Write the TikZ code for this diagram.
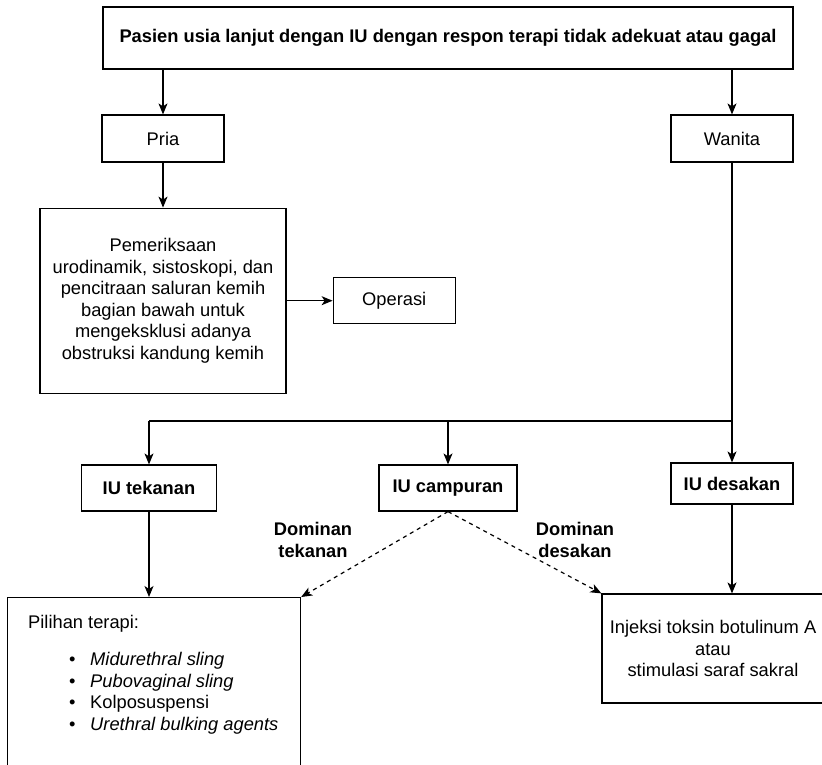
\documentclass[tikz,border=0pt]{standalone}
\usepackage{fontspec}
\setmainfont{Liberation Sans}
\usetikzlibrary{arrows.meta,positioning}

\begin{document}
\begin{tikzpicture}[x=1pt,y=-1pt,
  font=\fontsize{18.3}{21.5}\selectfont,
  box/.style={rectangle,draw,line width=1.2pt,align=center,inner sep=0pt},
  bold/.style={font=\fontsize{18.3}{21.5}\selectfont\bfseries},
  arr/.style={-{Stealth[length=11pt,width=9pt,inset=3pt]},line width=1.2pt},
  dasharr/.style={arr,dash pattern=on 4pt off 4pt},
  lbl/.style={bold,align=center,inner sep=0pt}]
\useasboundingbox (0,0) rectangle (822,764);
\node[box,bold,minimum width=690pt,minimum height=62pt] (pasien) at (448,38) {Pasien usia lanjut dengan IU dengan respon terapi tidak adekuat atau gagal};
\node[box,minimum width=122pt,minimum height=47pt] (pria) at (163,138.5) {Pria};
\node[box,minimum width=122pt,minimum height=47pt] (wanita) at (732,138.5) {Wanita};
\node[box,minimum width=246pt,minimum height=185pt,below=45pt of pria] (periksa) {Pemeriksaan\\urodinamik, sistoskopi, dan\\pencitraan saluran kemih\\bagian bawah untuk\\mengeksklusi adanya\\obstruksi kandung kemih};
\node[box,minimum width=122pt,minimum height=46pt,right=46pt of periksa] (operasi) {Operasi};
\node[box,bold,minimum width=135pt,minimum height=46pt] (tekanan) at (149,488) {IU tekanan};
\node[box,bold,minimum width=138pt,minimum height=46pt] (campuran) at (448,488) {IU campuran};
\node[box,bold,minimum width=122pt,minimum height=41pt] (desakan) at (732,483.5) {IU desakan};
\node[lbl] (domtek) at (313,540) {Dominan\\tekanan};
\node[lbl] (domdes) at (575,540) {Dominan\\desakan};
\node[box,anchor=north west,minimum width=293pt,minimum height=175pt] (pilihan) at (7,597) {};
\node[anchor=north west,align=left,inner sep=0pt] (opsi) at ([xshift=21pt,yshift=-18pt]pilihan.north west) {Pilihan terapi:\\[16pt]
  \hspace*{41pt}\makebox[21pt][l]{\textbullet}\textit{Midurethral sling}\\
  \hspace*{41pt}\makebox[21pt][l]{\textbullet}\textit{Pubovaginal sling}\\
  \hspace*{41pt}\makebox[21pt][l]{\textbullet}Kolposuspensi\\
  \hspace*{41pt}\makebox[21pt][l]{\textbullet}\textit{Urethral bulking agents}};
\node[box,minimum width=222pt,minimum height=109pt] (injeksi) at (713,648.5) {Injeksi toksin botulinum A\\atau\\stimulasi saraf sakral};
\coordinate (cabang) at (732,421);
\draw[arr] (pasien.south -| pria) -- (pria);
\draw[arr] (pasien.south -| wanita) -- (wanita);
\draw[arr] (pria) -- (periksa);
\draw[arr] (periksa.east |- operasi) -- (operasi);
\draw[line width=1.2pt] (wanita) -- (cabang) -- (cabang -| tekanan);
\foreach \n in {tekanan,campuran,desakan} {
  \draw[arr] (cabang -| \n) -- (\n);
}
\draw[arr] (tekanan) -- (tekanan |- pilihan.north);
\draw[arr] (desakan) -- (desakan |- injeksi.north);
\draw[dasharr] (campuran.south) -- (pilihan.north east);
\draw[dasharr] (campuran.south) -- (injeksi.north west);
\end{tikzpicture}
\end{document}
